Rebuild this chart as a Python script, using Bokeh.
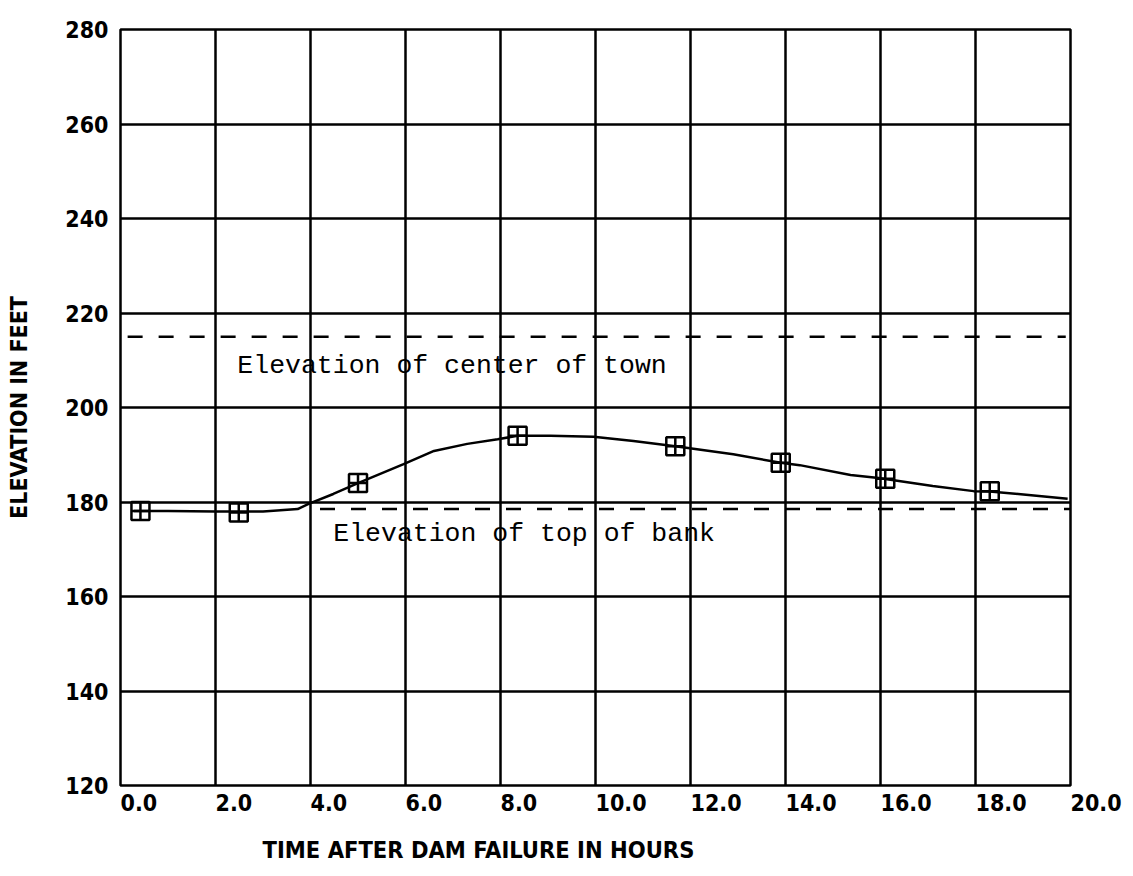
from bokeh.plotting import figure
from bokeh.models import FixedTicker, Label, Arrow, Range1d, Title
from bokeh.embed import file_html
from bokeh.resources import INLINE

# ---- data ----
curve_hours = [0.28, 1.0, 2.0, 3.0, 3.73, 3.96, 4.48, 5.0, 5.96, 6.6, 7.3, 7.94, 8.36, 9.05,
               9.96, 10.8, 11.68, 12.9, 13.9, 14.3, 15.37, 15.96, 17.1, 17.96, 18.3, 18.9, 19.94]
curve_elev = [178.1, 178.1, 178.0, 178.0, 178.5, 179.6, 181.7, 184.0, 188.0, 190.8, 192.3, 193.3, 194.0, 194.0,
              193.8, 192.9, 191.8, 190.1, 188.3, 187.8, 185.7, 185.1, 183.4, 182.3, 182.2, 181.7, 180.7]
marker_hours = [0.42, 2.49, 5.0, 8.36, 11.68, 13.9, 16.1, 18.3]
marker_elev = [178.1, 177.8, 184.0, 194.0, 191.8, 188.3, 184.9, 182.3]
town_elev = [215.0]
bank_elev = [178.5]
x_ticks = [0, 2, 4, 6, 8, 10, 12, 14, 16, 18, 20]
x_tick_labels = ["0.0", "2.0", "4.0", "6.0", "8.0", "10.0", "12.0", "14.0", "16.0", "18.0", "20.0"]
y_ticks = [120, 140, 160, 180, 200, 220, 240, 260, 280]
y_tick_labels = ["120", "140", "160", "180", "200", "220", "240", "260", "280"]
town_text = "Elevation of center of town"
bank_text = "Elevation of top of bank"
x_title = "TIME AFTER DAM FAILURE IN HOURS"
y_title = "ELEVATION IN FEET"

FONT = "DejaVu Sans Condensed"

p = figure(width=1133, height=876, output_backend="svg", toolbar_location=None,
           x_range=Range1d(0, 20), y_range=Range1d(120, 280),
           min_border_left=120, min_border_right=63, min_border_top=29, min_border_bottom=91)

p.background_fill_color = "white"
p.border_fill_color = "white"
p.outline_line_color = "black"
p.outline_line_width = 2.5

p.xaxis.ticker = FixedTicker(ticks=x_ticks)
p.yaxis.ticker = FixedTicker(ticks=y_ticks)
p.xaxis.major_label_overrides = dict(zip(x_ticks, x_tick_labels))
p.yaxis.major_label_overrides = dict(zip(y_ticks, y_tick_labels))

for ax in (p.xaxis[0], p.yaxis[0]):
    ax.axis_line_color = None
    ax.major_tick_line_color = None
    ax.minor_tick_line_color = None
    ax.major_tick_out = 0
    ax.major_tick_in = 0
    ax.major_label_text_font = FONT
    ax.major_label_text_font_style = "bold"
    ax.major_label_text_font_size = "23px"
    ax.major_label_text_color = "black"
# a vanishingly small negative angle makes the labels start at their tick, as in the reference
p.xaxis.major_label_orientation = -1e-4
p.xaxis.major_label_standoff = 17
p.yaxis.major_label_standoff = 12

p.yaxis.axis_label = y_title
p.yaxis.axis_label_text_font = FONT
p.yaxis.axis_label_text_font_style = "bold"
p.yaxis.axis_label_text_font_size = "23px"
p.yaxis.axis_label_text_color = "black"
p.yaxis.axis_label_standoff = 30

p.add_layout(Title(text=x_title, align="left", offset=142, text_font=FONT,
                   text_font_style="bold", text_font_size="23.5px", text_color="black",
                   standoff=23), "below")

p.xgrid.grid_line_color = "black"
p.ygrid.grid_line_color = "black"
p.xgrid.grid_line_width = 2.5
p.ygrid.grid_line_width = 2.5
p.xgrid.grid_line_alpha = 1
p.ygrid.grid_line_alpha = 1

# reference lines
p.add_layout(Arrow(end=None, x_start=0.15, x_end=19.9, y_start=town_elev[0], y_end=town_elev[0],
                   line_color="black", line_width=2.5, line_dash="15 16"))
p.add_layout(Arrow(end=None, x_start=4.2, x_end=20.5, y_start=bank_elev[0], y_end=bank_elev[0],
                   line_color="black", line_width=2.5, line_dash="15 16"))

# curve and markers
p.line(curve_hours, curve_elev, line_color="black", line_width=2.5)
p.scatter(marker_hours, marker_elev, marker="square_cross", size=18,
          fill_color=None, line_color="black", line_width=2.5)

# text labels
p.add_layout(Label(x=2.46, y=208.8, text=town_text, text_font="Liberation Mono",
                   text_font_size="26.5px", text_color="black", text_baseline="alphabetic"))
p.add_layout(Label(x=4.48, y=173.2, text=bank_text, text_font="Liberation Mono",
                   text_font_size="26.5px", text_color="black", text_baseline="alphabetic"))

open("out.html", "w").write(file_html(p, INLINE))
